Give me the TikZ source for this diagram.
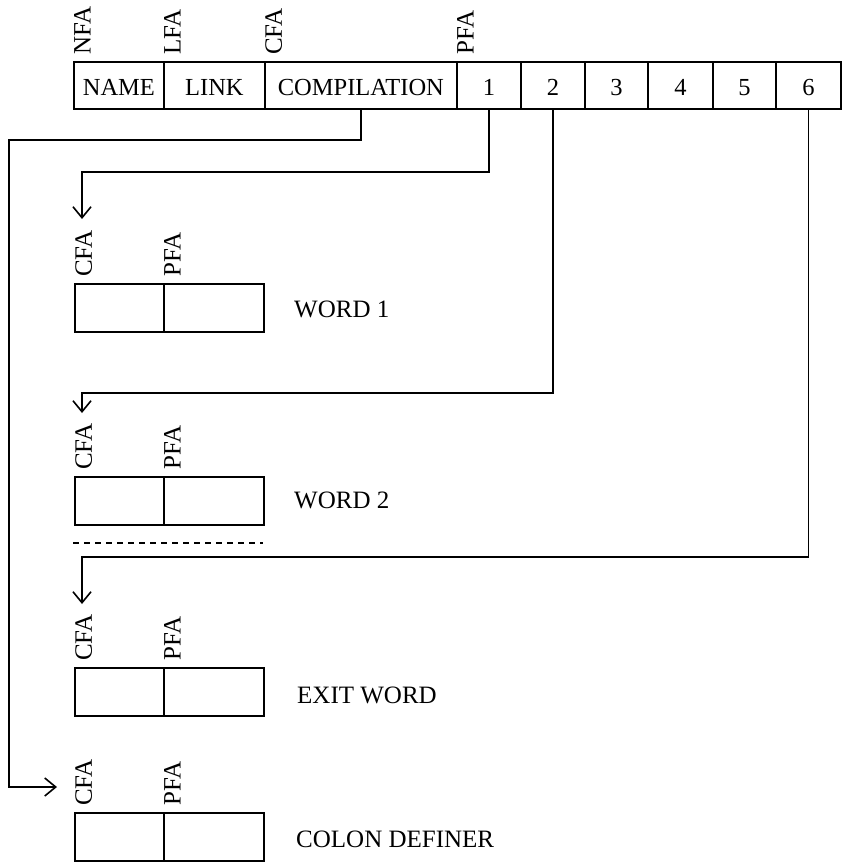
\documentclass[tikz,border=0pt]{standalone}
\usepackage{fontspec}
\setmainfont{Liberation Serif}
\usetikzlibrary{arrows.meta}
\begin{document}
\begin{tikzpicture}[x=1pt,y=-1pt,
  lw/.style={line width=1.8pt},
  cell/.style={draw, lw, inner sep=0pt, anchor=north west, minimum height=47pt,
    text height=20pt, text depth=0pt, font=\fontsize{24.5}{28}\selectfont},
  wcell/.style={draw, lw, inner sep=0pt, anchor=north west, minimum height=48pt},
  addr/.style={rotate=90, anchor=north west, inner sep=0pt, font=\fontsize{25}{28}\selectfont},
  wlabel/.style={anchor=base west, inner sep=0pt, font=\fontsize{25}{28}\selectfont},
  conn/.style={lw, -{Straight Barb[length=11pt,width=18pt,line width=1.6pt]}},
  dashline/.style={lw, dash pattern=on 6pt off 5pt}]
\useasboundingbox (0,0) rectangle (842,862);
% top row
\node[cell, minimum width=90pt]  (name) at (73,61)  {NAME};
\node[cell, minimum width=101pt] (link) at (163,61) {LINK};
\node[cell, minimum width=192pt] (comp) at (264,61) {COMPILATION};
\node[cell, minimum width=64pt]  (c1)   at (456,61) {1};
\node[cell, minimum width=64pt]  (c2)   at (520,61) {2};
\node[cell, minimum width=63pt]  (c3)   at (584,61) {3};
\node[cell, minimum width=65pt]  (c4)   at (647,61) {4};
\node[cell, minimum width=63pt]  (c5)   at (712,61) {5};
\node[cell, minimum width=65pt]  (c6)   at (775,61) {6};
\node[addr] (nfa) at (74,55)  {NFA};
\node[addr] (lfa) at (164,55) {LFA};
\node[addr] (cfa) at (265,55) {CFA};
\node[addr] (pfa) at (457,55) {PFA};
% word boxes
\foreach \n/\y in {w1/283, w2/476, ex/667, co/812}{
  \node[wcell, minimum width=89pt]  (\n c) at (74,\y) {};
  \node[wcell, minimum width=100pt] (\n p) at (163,\y) {};
  \node[addr] (\n cfa) at (75,\y-6) {CFA};
  \node[addr] (\n pfa) at (164,\y-6) {PFA};
}
\node[wlabel] (w1t) at (294,317) {WORD 1};
\node[wlabel] (w2t) at (294,508) {WORD 2};
\node[wlabel] (ext) at (297,703) {EXIT WORD};
\node[wlabel] (cot) at (296,847) {COLON DEFINER};
% dashed separator
\coordinate (d0) at (73,543);
\coordinate (d1) at (263,543);
\draw[dashline] (d0) -- (d1);
% connectors
\coordinate (j0) at (9,140);
\coordinate (t0) at (57,787);
\draw[conn] (comp.south) |- (j0) |- (t0);
\coordinate (j1) at (82,172);
\coordinate (t1) at (82,219);
\draw[conn] (c1.south) |- (j1) -- (t1);
\coordinate (j2) at (82,393);
\coordinate (t2) at (82,413);
\draw[conn] (c2.south) |- (j2) -- (t2);
\coordinate (j6) at (82,557);
\coordinate (t6) at (82,604);
\draw[conn] (c6.south) |- (j6) -- (t6);
\end{tikzpicture}
\end{document}
